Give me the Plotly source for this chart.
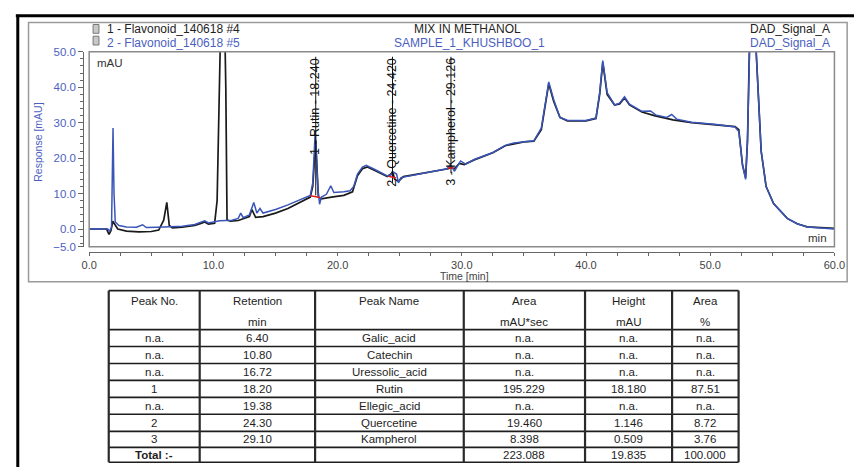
import plotly.graph_objects as go

W, H = 865, 473

# ---------------- chromatogram data ----------------
# trace 1 : Flavonoid_140618 #4 (standard mix, black)
time_std = [0, 1.4, 1.6, 1.75, 1.9, 2.05, 2.3, 3.0, 4.0, 5.0, 5.6, 6.0, 6.25, 6.45, 6.7,
            7.5, 8.5, 9.0, 9.3, 9.6, 10.1, 10.3, 10.6, 10.8, 11.0, 11.1, 11.4, 12.0, 12.6,
            12.9, 13.1, 13.4, 14.0, 15.0, 16.0, 17.0, 17.8, 18.0, 18.24, 18.45, 18.7, 19.5,
            20.5, 21.2, 21.6, 22.0, 22.4, 23.0, 24.0, 24.3, 24.42, 24.6, 24.9, 25.3, 26.5,
            28.0, 28.9, 29.13, 29.4, 29.8, 30.2, 31.0, 32.5, 33.5, 34.2, 35.0, 35.8, 36.4,
            37.0, 37.4, 37.9, 38.5, 40.0, 40.8, 41.1, 41.35, 41.7, 42.3, 42.7, 43.1, 43.5,
            44.5, 45.5, 47.0, 48.5, 50.5, 52.0, 52.3, 52.6, 52.85, 53.0, 53.15, 53.4, 53.7,
            54.1, 54.5, 55.1, 56.2, 57.0, 57.8, 59.0, 60.0]
signal_std = [0, 0, -1.5, -0.5, 2.2, 1.5, 0.0, -0.6, -0.8, -0.7, -0.3, 2.5, 7.5, 1.0, 0.3,
              0.5, 1.0, 1.6, 2.0, 1.4, 1.6, 8.0, 60.0, 80.0, 40.0, 2.5, 2.2, 2.4, 3.0,
              3.5, 5.5, 3.3, 3.5, 4.5, 5.8, 7.5, 9.0, 12.0, 25.0, 9.0, 8.5, 9.0,
              9.5, 10.5, 15.0, 17.0, 17.5, 16.5, 14.8, 15.5, 16.2, 14.0, 13.5, 14.8, 15.5,
              16.5, 17.0, 17.3, 17.0, 18.5, 18.2, 19.5, 21.5, 23.5, 24.0, 24.6, 24.8, 28.0,
              41.0, 36.0, 31.5, 30.5, 30.5, 31.2, 38.0, 47.0, 38.0, 35.0, 35.3, 37.0, 35.0,
              33.0, 32.0, 30.8, 30.0, 29.4, 28.9, 28.0, 18.0, 14.5, 25.0, 50.0, 85.0, 50.0,
              22.0, 12.0, 7.2, 3.0, 1.5, 0.6, 0.3, 0.2]

# trace 2 : Flavonoid_140618 #5 (sample, blue)
time_smp = [0, 1.5, 1.65, 1.8, 1.92, 2.0, 2.1, 2.4, 3.0, 3.8, 4.3, 4.6, 5.5, 6.5, 7.5,
            8.5, 9.0, 9.3, 9.6, 10.5, 11.5, 12.0, 12.2, 12.4, 12.9, 13.25, 13.5, 13.75,
            14.0, 15.0, 16.0, 17.0, 17.8, 18.0, 18.2, 18.4, 18.55, 18.7, 19.1, 19.45, 19.7,
            20.5, 21.0, 21.3, 21.6, 22.0, 22.3, 23.0, 24.0, 24.3, 24.5, 24.75, 24.9, 25.1,
            26.5, 28.0, 28.8, 29.0, 29.2, 29.4, 29.6, 29.9, 30.3, 31.0, 32.5, 33.5, 34.2,
            35.0, 35.8, 36.4, 37.0, 37.4, 37.9, 38.5, 40.0, 40.8, 41.1, 41.35, 41.7, 42.3,
            42.7, 43.1, 43.5, 44.5, 45.2, 45.6, 46.5, 46.9, 47.3, 48.5, 50.5, 52.0, 52.3,
            52.6, 52.85, 53.0, 53.15, 53.4, 53.7, 54.1, 54.5, 55.1, 56.2, 57.0, 57.8, 59.0,
            60.0]
signal_smp = [0, 0, -0.6, 0.5, 28.5, 10.0, 2.0, 1.0, 0.6, 0.5, 1.2, 0.4, 0.5, 0.6, 0.8,
              1.3, 1.8, 2.3, 1.7, 2.3, 2.5, 3.0, 4.5, 3.2, 4.0, 7.5, 4.5, 5.8,
              4.5, 5.5, 6.8, 8.3, 9.5, 13.0, 27.7, 12.0, 7.0, 9.0, 9.8, 12.2, 10.3,
              10.5, 10.8, 12.0, 15.5, 17.5, 18.0, 16.8, 15.0, 15.3, 16.0, 15.5, 13.0, 14.5,
              15.5, 16.5, 17.0, 17.8, 17.6, 16.3, 17.5, 19.2, 18.3, 19.6, 21.6, 23.6, 24.3,
              24.7, 24.9, 28.5, 41.5, 36.5, 31.5, 30.7, 30.6, 31.3, 38.5, 47.5, 38.5, 35.0,
              35.5, 37.3, 35.2, 33.2, 33.3, 32.2, 31.5, 32.3, 31.0, 30.1, 29.5, 28.8, 27.5,
              18.0, 14.0, 25.0, 50.0, 85.0, 50.0, 22.0, 12.0, 7.2, 3.0, 1.5, 0.6, 0.2,
              0.0]

# integrated peaks
peak_times = [18.240, 24.420, 29.126]
peak_labels = ["1 - Rutin - 18.240", "2 - Quercetine - 24.420", "3 - Kampherol - 29.126"]
peak_base = [9.5, 13.0, 15.8]
label_top = 48.6

baseline_x = [17.8, 18.6, None, 24.1, 24.7, None, 28.9, 29.35]
baseline_y = [9.4, 8.9, None, 14.9, 14.4, None, 17.2, 17.2]

x_ticks = [0, 10, 20, 30, 40, 50, 60]
y_ticks = [-5, 0, 10, 20, 30, 40, 50]

# ---------------- table data ----------------
header_top = ["Peak No.", "Retention", "Peak Name", "Area", "Height", "Area"]
header_unit = ["", "min", "", "mAU*sec", "mAU", "%"]
peak_no = ["n.a.", "n.a.", "n.a.", "1", "n.a.", "2", "3", "<b>Total :-</b>"]
retention = ["6.40", "10.80", "16.72", "18.20", "19.38", "24.30", "29.10", ""]
peak_name = ["Galic_acid", "Catechin", "Uressolic_acid", "Rutin", "Ellegic_acid", "Quercetine", "Kampherol", ""]
area = ["n.a.", "n.a.", "n.a.", "195.229", "n.a.", "19.460", "8.398", "223.088"]
height = ["n.a.", "n.a.", "n.a.", "18.180", "n.a.", "1.146", "0.509", "19.835"]
area_pct = ["n.a.", "n.a.", "n.a.", "87.51", "n.a.", "8.72", "3.76", "100.000"]
table_columns = [peak_no, retention, peak_name, area, height, area_pct]

# table geometry (pixels)
col_widths = [93, 118, 152, 124, 89, 68]
table_left, table_top = 103, 292
header_h = 40
row_heights = [17.3, 17.5, 17.3, 17.5, 17.3, 17.5, 16.5, 15.2]

# ---------------- styling ----------------
FONT = "Arial, Liberation Sans, sans-serif"
BLACK_LINE = "#1a1a1a"
BLUE_LINE = "#3a55b8"
BLUE_TEXT = "#4c5fbf"
GRAY = "#9a9a9a"


def px(x):
    return x / W


def py(y):
    return 1 - y / H


fig = go.Figure()

fig.add_trace(go.Scatter(x=time_std, y=signal_std, mode="lines",
                         line=dict(color=BLACK_LINE, width=1.7), hoverinfo="skip"))
fig.add_trace(go.Scatter(x=time_smp, y=signal_smp, mode="lines",
                         line=dict(color=BLUE_LINE, width=1.5), hoverinfo="skip"))

# peak marker lines
mx, my = [], []
for t, b in zip(peak_times, peak_base):
    mx += [t, t, None]
    my += [b, label_top, None]
fig.add_trace(go.Scatter(x=mx, y=my, mode="lines", line=dict(color="#111", width=1),
                         hoverinfo="skip"))
fig.add_trace(go.Scatter(x=baseline_x, y=baseline_y, mode="lines",
                         line=dict(color="#e02020", width=1.5), hoverinfo="skip"))

for t, lab in zip(peak_times, peak_labels):
    fig.add_annotation(x=t, y=label_top, xref="x", yref="y", text=lab, textangle=-90,
                       showarrow=False, xanchor="center", yanchor="top", borderpad=0,
                       font=dict(family=FONT, size=12.5, color="#111"))

shapes = []
# outer black frame
shapes.append(dict(type="line", xref="paper", yref="paper", x0=px(8), x1=1.0, y0=py(10), y1=py(10),
                   line=dict(color="black", width=3)))
shapes.append(dict(type="line", xref="paper", yref="paper", x0=px(10), x1=px(10), y0=py(9), y1=0,
                   line=dict(color="black", width=3)))
# gray chart box
shapes.append(dict(type="rect", xref="paper", yref="paper", x0=px(21), x1=px(858), y0=py(283), y1=py(17),
                   line=dict(color=GRAY, width=1.5)))
# plot frame
shapes.append(dict(type="rect", xref="x domain", yref="y domain", x0=0, x1=1, y0=0, y1=1,
                   line=dict(color="#8a8a8a", width=1.5)))
# small document icons
for yy in (19, 31):
    shapes.append(dict(type="rect", xref="paper", yref="paper", x0=px(87), x1=px(93), y0=py(yy + 9), y1=py(yy),
                       line=dict(color="#777", width=1), fillcolor="#c8c8c8"))

# ---- table (lines + text) ----
col_edges = [table_left]
for w in col_widths:
    col_edges.append(col_edges[-1] + w)
row_edges = [table_top, table_top + header_h]
for h in row_heights:
    row_edges.append(row_edges[-1] + h)
t_bottom = row_edges[-1]
t_right = col_edges[-1]
for ye in row_edges:
    shapes.append(dict(type="line", xref="paper", yref="paper", x0=px(table_left), x1=px(t_right),
                       y0=py(ye), y1=py(ye), line=dict(color="#1e1e1e", width=1.6)))
for xe in col_edges:
    shapes.append(dict(type="line", xref="paper", yref="paper", x0=px(xe), x1=px(xe),
                       y0=py(table_top), y1=py(t_bottom), line=dict(color="#2a2a2a", width=2.2)))
fig.update_layout(shapes=shapes)

TFONT = dict(family=FONT, size=11.5, color="#1e1e1e")
for c in range(len(col_widths)):
    cx = (col_edges[c] + col_edges[c + 1]) / 2
    fig.add_annotation(x=px(cx), y=py(table_top + 11), xref="paper", yref="paper", text=header_top[c],
                       showarrow=False, xanchor="center", yanchor="middle", font=TFONT)
    if header_unit[c]:
        fig.add_annotation(x=px(cx), y=py(table_top + 32), xref="paper", yref="paper", text=header_unit[c],
                           showarrow=False, xanchor="center", yanchor="middle", font=TFONT)
    for r, val in enumerate(table_columns[c]):
        if not val:
            continue
        cy = (row_edges[r + 1] + row_edges[r + 2]) / 2
        fig.add_annotation(x=px(cx), y=py(cy), xref="paper", yref="paper", text=val,
                           showarrow=False, xanchor="center", yanchor="middle", font=TFONT)

ann = [
    dict(x=px(99), y=py(24), text="1 - Flavonoid_140618 #4", xanchor="left", color="#222"),
    dict(x=px(99), y=py(38), text="2 - Flavonoid_140618 #5", xanchor="left", color=BLUE_TEXT),
    dict(x=px(470), y=py(24), text="MIX IN METHANOL", xanchor="center", color="#222"),
    dict(x=px(472), y=py(38), text="SAMPLE_1_KHUSHBOO_1", xanchor="center", color=BLUE_TEXT),
    dict(x=px(843), y=py(24), text="DAD_Signal_A", xanchor="right", color="#222"),
    dict(x=px(843), y=py(38), text="DAD_Signal_A", xanchor="right", color=BLUE_TEXT),
]
for a in ann:
    fig.add_annotation(x=a["x"], y=a["y"], xref="paper", yref="paper", text=a["text"],
                       xanchor=a["xanchor"], yanchor="middle", showarrow=False,
                       font=dict(family=FONT, size=12, color=a["color"]))

fig.add_annotation(x=px(89), y=py(58), xref="paper", yref="paper", text="mAU", xanchor="left",
                   yanchor="middle", showarrow=False, font=dict(family=FONT, size=11.5, color="#333"))
fig.add_annotation(x=px(839), y=py(238), xref="paper", yref="paper", text="min", xanchor="right",
                   yanchor="middle", showarrow=False, font=dict(family=FONT, size=11.5, color="#333"))
fig.add_annotation(x=px(31), y=py(140), xref="paper", yref="paper", text="Response [mAU]", textangle=-90,
                   xanchor="center", yanchor="middle", showarrow=False,
                   font=dict(family=FONT, size=10.5, color=BLUE_TEXT))
fig.add_annotation(x=px(467), y=py(277.5), xref="paper", yref="paper", text="Time [min]",
                   xanchor="center", yanchor="middle", showarrow=False,
                   font=dict(family=FONT, size=10.5, color="#444"))

fig.update_layout(
    autosize=True,
    margin=dict(l=0, r=0, t=0, b=0, pad=0),
    paper_bgcolor="white", plot_bgcolor="white",
    showlegend=False,
    xaxis=dict(domain=[px(83), px(845)], range=[0, 60], anchor="free", position=py(252),
               tickvals=x_ticks, tickformat=".1f", ticks="outside", ticklen=3, tickcolor="#666",
               showline=True, linecolor="#666", linewidth=1.2, showgrid=False, zeroline=False,
               tickfont=dict(family=FONT, size=11, color="#444"),
               minor=dict(dtick=2.5, tick0=0, ticks="outside", ticklen=3, tickcolor="#666")),
    yaxis=dict(domain=[py(247), py(47)], range=[-5, 50], anchor="free", position=px(77),
               tickvals=y_ticks, tickformat=".1f", ticks="outside", ticklen=5, tickcolor="#666",
               showline=True, linecolor="#666", linewidth=1.2, showgrid=False, zeroline=False,
               tickfont=dict(family=FONT, size=11.5, color=BLUE_TEXT),
               minor=dict(dtick=2, tick0=0, ticks="outside", ticklen=3, tickcolor="#666")),
)

fig.write_html(
    "out.html",
    default_width="100vw",
    default_height="100vh",
    config={"displayModeBar": False, "responsive": True},
    post_script=(
        "document.body.style.margin='0';document.body.style.overflow='hidden';"
        "document.documentElement.style.overflow='hidden';"
        "Plotly.Plots.resize(document.getElementById('{plot_id}'));"
    ),
)
